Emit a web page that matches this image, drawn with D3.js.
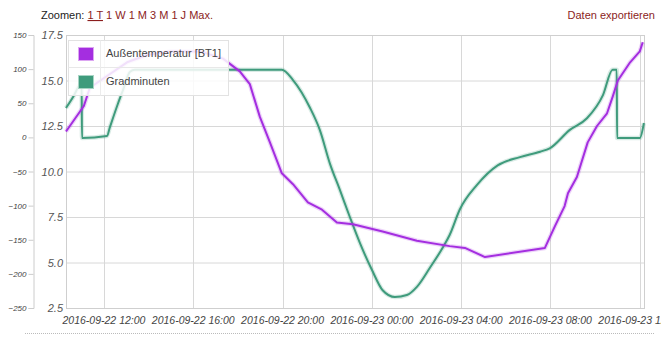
<!DOCTYPE html>
<html lang="de">
    <head>
        <meta charset="utf-8">
        <title>Außentemperatur / Gradminuten</title>
        <script src="https://cdnjs.cloudflare.com/ajax/libs/d3/7.8.5/d3.min.js"></script>
        <style>
            body { margin: 0; background: #fff; }
            text { font-family: "Liberation Sans", Arial, sans-serif; }
        </style>
    </head>
    <body>
        <svg width="661" height="343"></svg>
        <script type="text/javascript">
            // data
            var tempTimes = ["2016-09-22 10:18", "2016-09-22 11:06", "2016-09-22 11:22", "2016-09-22 13:02",
                "2016-09-22 13:56", "2016-09-22 14:58", "2016-09-22 16:18", "2016-09-22 17:20",
                "2016-09-22 18:05", "2016-09-22 18:32", "2016-09-22 18:59", "2016-09-22 19:26",
                "2016-09-22 19:58", "2016-09-22 20:28", "2016-09-22 21:08", "2016-09-22 21:46",
                "2016-09-22 22:26", "2016-09-22 23:09", "2016-09-23 00:29", "2016-09-23 02:01",
                "2016-09-23 03:29", "2016-09-23 04:10", "2016-09-23 05:04", "2016-09-23 07:45",
                "2016-09-23 08:12", "2016-09-23 08:38", "2016-09-23 08:47", "2016-09-23 09:11",
                "2016-09-23 09:40", "2016-09-23 10:05", "2016-09-23 10:32", "2016-09-23 10:47",
                "2016-09-23 11:01", "2016-09-23 11:34", "2016-09-23 12:00", "2016-09-23 12:08"];
            var tempValues = [12.2, 13.6, 14.6, 16.0, 16.4, 16.6, 16.6, 16.2, 15.5, 14.8, 13.0, 11.6,
                9.9, 9.3, 8.3, 7.9, 7.2, 7.1, 6.7, 6.2, 5.9, 5.8, 5.3, 5.8, 7.0, 8.1, 8.8, 9.7,
                11.6, 12.5, 13.2, 14.1, 15.0, 16.0, 16.6, 17.1];

            var gradTimes = ["2016-09-22 10:18", "2016-09-22 10:37", "2016-09-22 10:56", "2016-09-22 11:00",
                "2016-09-22 11:01", "2016-09-22 12:08", "2016-09-22 12:16", "2016-09-22 12:38",
                "2016-09-22 12:51", "2016-09-22 13:10", "2016-09-22 13:23", "2016-09-22 19:58",
                "2016-09-22 20:28", "2016-09-22 21:14", "2016-09-22 21:40", "2016-09-22 22:07",
                "2016-09-22 22:34", "2016-09-22 23:01", "2016-09-22 23:28", "2016-09-23 00:00",
                "2016-09-23 00:29", "2016-09-23 01:02", "2016-09-23 01:34", "2016-09-23 02:01",
                "2016-09-23 02:36", "2016-09-23 03:11", "2016-09-23 03:29", "2016-09-23 03:56",
                "2016-09-23 04:42", "2016-09-23 05:38", "2016-09-23 06:38", "2016-09-23 07:32",
                "2016-09-23 07:58", "2016-09-23 08:52", "2016-09-23 09:38", "2016-09-23 10:21",
                "2016-09-23 10:47", "2016-09-23 10:58", "2016-09-23 10:59", "2016-09-23 12:00",
                "2016-09-23 12:11"];
            var gradValues = [43, 59, 78, 80, -1, 2, 15, 50, 69, 96, 99, 99, 84, 43, 11, -38, -77,
                -117, -155, -194, -224, -234, -231, -219, -191, -161, -143, -106, -70, -41, -29,
                -21, -16, 11, 28, 62, 99, 99, -1, -1, 21];

            // axis ticks
            var tempTicks = [2.5, 5.0, 7.5, 10.0, 12.5, 15.0, 17.5];
            var gradTicks = [-250, -200, -150, -100, -50, 0, 50, 100, 150];
            var timeTicks = ["2016-09-22 12:00", "2016-09-22 16:00", "2016-09-22 20:00", "2016-09-23 00:00",
                "2016-09-23 04:00", "2016-09-23 08:00", "2016-09-23 12:00"];
            var xStart = "2016-09-22 10:18", xEnd = "2016-09-23 12:14";

            var seriesNames = ["Außentemperatur [BT1]", "Gradminuten"];
            var purple = "#a42ee0", green = "#3f9b7c";

            var parse = d3.timeParse("%Y-%m-%d %H:%M");
            var fmt = d3.timeFormat("%Y-%m-%d %H:%M");

            var svg = d3.select("svg"),
                margin = {top: 35, right: 16, bottom: 35, left: 66},
                width = +svg.attr("width") - margin.left - margin.right,
                height = +svg.attr("height") - margin.top - margin.bottom;

            // scales
            var x = d3.scaleTime()
                .domain([parse(xStart), parse(xEnd)])
                .range([margin.left, margin.left + width]);
            var yTemp = d3.scaleLinear()
                .domain([2.5, 17.5])
                .range([margin.top + height, margin.top]);
            var yGrad = d3.scaleLinear()
                .domain([-250, 150])
                .range([margin.top + height, margin.top]);

            // header links
            var head = svg.append("text")
                .attr("x", 41)
                .attr("y", 19)
                .attr("font-size", 11);
            head.append("tspan").attr("fill", "#222").text("Zoomen: ");
            head.append("tspan").attr("fill", "#8b1d1d").attr("text-decoration", "underline").text("1 T");
            head.append("tspan").attr("fill", "#8b1d1d").text(" 1 W 1 M 3 M 1 J Max.");

            svg.append("text")
                .attr("x", 655)
                .attr("y", 19)
                .attr("font-size", 11)
                .attr("text-anchor", "end")
                .attr("fill", "#8b1d1d")
                .text("Daten exportieren");

            // grid
            svg.append("g")
                .selectAll("line")
                .data(tempTicks)
                .enter()
                  .append("line")
                  .attr("x1", margin.left)
                  .attr("x2", margin.left + width)
                  .attr("y1", function(d) { return yTemp(d) + 0.5; })
                  .attr("y2", function(d) { return yTemp(d) + 0.5; })
                  .attr("stroke", "#d8d8d8");

            svg.append("g")
                .selectAll("line")
                .data(timeTicks)
                .enter()
                  .append("line")
                  .attr("x1", function(d) { return Math.round(x(parse(d))) + 0.5; })
                  .attr("x2", function(d) { return Math.round(x(parse(d))) + 0.5; })
                  .attr("y1", margin.top)
                  .attr("y2", margin.top + height)
                  .attr("stroke", "#d8d8d8");

            // plot border
            svg.append("rect")
                .attr("x", margin.left + 0.5)
                .attr("y", margin.top + 0.5)
                .attr("width", width - 1)
                .attr("height", height)
                .attr("fill", "none")
                .attr("stroke", "#cfcfcf");

            // temperature axis labels
            svg.append("g")
                .selectAll("text")
                .data(tempTicks)
                .enter()
                  .append("text")
                  .attr("x", 63)
                  .attr("y", function(d) { return yTemp(d) + 4; })
                  .attr("text-anchor", "end")
                  .attr("font-size", 11)
                  .attr("font-style", "italic")
                  .attr("fill", "#555")
                  .text(function(d) { return d.toFixed(1); });

            // gradminuten axis
            var gradAxis = d3.axisLeft(yGrad)
                .tickValues(gradTicks)
                .tickSize(5)
                .tickPadding(2);
            var ga = svg.append("g")
                .attr("transform", "translate(33.5,0)")
                .call(gradAxis);
            ga.select(".domain").attr("stroke", "#ccc");
            ga.selectAll(".tick line").attr("stroke", "#ccc");
            ga.selectAll(".tick text")
                .attr("font-size", 8)
                .attr("font-style", "italic")
                .attr("font-family", "Liberation Sans, Arial, sans-serif")
                .attr("fill", "#444");

            // time labels (the last one runs off the right edge, as in the original)
            svg.append("g")
                .selectAll("text")
                .data(timeTicks)
                .enter()
                  .append("text")
                  .attr("x", function(d) { return x(parse(d)); })
                  .attr("y", 324)
                  .attr("text-anchor", "middle")
                  .attr("font-size", 10.5)
                  .attr("font-style", "italic")
                  .attr("fill", "#444")
                  .text(function(d) { return fmt(parse(d)); });

            // dotted line below
            svg.append("line")
                .attr("x1", 25)
                .attr("x2", 655)
                .attr("y1", 333.5)
                .attr("y2", 333.5)
                .attr("stroke", "#bbb")
                .attr("stroke-dasharray", "1,1");

            // lines
            var tempData = tempTimes.map(function(t, i) { return [parse(t), tempValues[i]]; });
            var gradData = gradTimes.map(function(t, i) { return [parse(t), gradValues[i]]; });

            var tempLine = d3.line()
                .x(function(d) { return x(d[0]); })
                .y(function(d) { return yTemp(d[1]); });
            var gradLine = d3.line()
                .curve(d3.curveMonotoneX)
                .x(function(d) { return x(d[0]); })
                .y(function(d) { return yGrad(d[1]); });

            var lines = [
                {data: gradData, line: gradLine, color: green},
                {data: tempData, line: tempLine, color: purple}
            ];
            lines.forEach(function(s) {
                svg.append("path")
                  .attr("d", s.line(s.data))
                  .attr("fill", "none")
                  .attr("stroke", s.color)
                  .attr("stroke-opacity", 0.2)
                  .attr("stroke-width", 4.5)
                  .attr("stroke-linejoin", "round");
                svg.append("path")
                  .attr("d", s.line(s.data))
                  .attr("fill", "none")
                  .attr("stroke", s.color)
                  .attr("stroke-width", 2)
                  .attr("stroke-linejoin", "round");
            });

            // legend
            var legend = svg.append("g");
            legend.append("rect")
                .attr("x", 68.5)
                .attr("y", 40.5)
                .attr("width", 160)
                .attr("height", 55)
                .attr("fill", "#fff")
                .attr("fill-opacity", 0.85)
                .attr("stroke", "#e2e2e2");
            legend.append("line")
                .attr("x1", 68.5).attr("x2", 228.5)
                .attr("y1", 67.5).attr("y2", 67.5)
                .attr("stroke", "#e8e8e8");
            legend.append("line")
                .attr("x1", 100.5).attr("x2", 100.5)
                .attr("y1", 40.5).attr("y2", 95.5)
                .attr("stroke", "#ececec");

            var colors = [purple, green];
            var borders = ["#dca6f2", "#a8d4c4"];
            seriesNames.forEach(function(name, i) {
                legend.append("rect")
                  .attr("x", 78.5)
                  .attr("y", 47.5 + i * 28)
                  .attr("width", 15)
                  .attr("height", 13)
                  .attr("fill", colors[i])
                  .attr("stroke", borders[i]);
                legend.append("text")
                  .attr("x", 106)
                  .attr("y", 57 + i * 28)
                  .attr("font-size", 11)
                  .attr("fill", "#444")
                  .text(name);
            });
        </script>
    </body>
</html>
